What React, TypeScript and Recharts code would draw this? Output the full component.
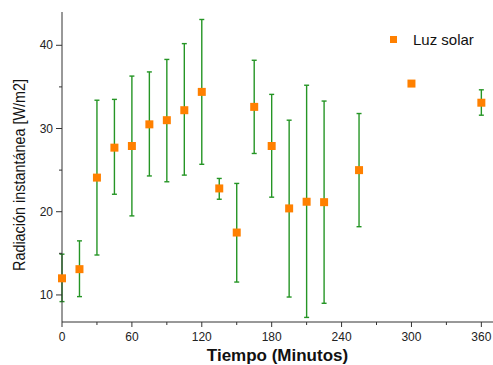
import {
  ScatterChart,
  Scatter,
  XAxis,
  YAxis,
  ErrorBar,
  Legend,
  Label,
} from 'recharts';

const minutes = [0, 15, 30, 45, 60, 75, 90, 105, 120, 135, 150, 165, 180, 195, 210, 225, 255, 300, 360];
const radiation = [12.0, 13.1, 24.1, 27.7, 27.9, 30.5, 31.0, 32.2, 34.4, 22.8, 17.5, 32.6, 27.9, 20.4, 21.2, 21.15, 25.0, 35.4, 33.1];
const errLow = [2.8, 3.3, 9.3, 5.6, 8.4, 6.2, 7.4, 7.8, 8.7, 1.3, 5.95, 5.6, 6.15, 10.65, 13.9, 12.15, 6.8, 0, 1.5];
const errHigh = [2.9, 3.4, 9.3, 5.8, 8.4, 6.3, 7.3, 8.0, 8.7, 1.2, 5.9, 5.6, 6.2, 10.6, 14.0, 12.15, 6.8, 0, 1.55];

const xTicks = [0, 30, 60, 90, 120, 150, 180, 210, 240, 270, 300, 330, 360];
const xLabels = [0, 60, 120, 180, 240, 300, 360];
const yTicks = [10, 15, 20, 25, 30, 35, 40];
const yLabels = [10, 20, 30, 40];

const data = minutes.map((m, i) => ({
  x: m,
  y: radiation[i],
  err: [errLow[i], errHigh[i]],
}));

const font = '"Liberation Sans", Arial, sans-serif';

function XTick(props: any) {
  const { x, y, payload } = props;
  const axisY = y - 7;
  const major = xLabels.includes(payload.value);
  return (
    <g>
      <line x1={x} x2={x} y1={axisY} y2={axisY + (major ? 5 : 3)} stroke="#333" strokeWidth={1} />
      {major && (
        <text x={x} y={axisY + 19} textAnchor="middle" fontSize={12} fill="#222" fontFamily={font}>
          {payload.value}
        </text>
      )}
    </g>
  );
}

function YTick(props: any) {
  const { x, y, payload } = props;
  const axisX = x + 7;
  const major = yLabels.includes(payload.value);
  return (
    <g>
      <line x1={axisX} x2={axisX - (major ? 6 : 3)} y1={y} y2={y} stroke="#333" strokeWidth={1} />
      {major && (
        <text x={axisX - 9} y={y + 4} textAnchor="end" fontSize={12} fill="#222" fontFamily={font}>
          {payload.value}
        </text>
      )}
    </g>
  );
}

function LegendBox() {
  return (
    <div style={{ display: 'flex', alignItems: 'center', fontFamily: font, fontSize: 15, color: '#111' }}>
      <span style={{ display: 'inline-block', width: 7, height: 7, background: '#ff8000', marginRight: 16 }} />
      Luz solar
    </div>
  );
}

export default function App() {
  return (
    <div style={{ position: 'absolute', left: 0, top: 0, background: '#fff' }}>
      <ScatterChart width={493} height={365} margin={{ top: 12, right: 0, bottom: 0, left: 0 }}>
        <XAxis
          type="number"
          dataKey="x"
          domain={[0, 370]}
          ticks={xTicks}
          interval={0}
          tickSize={5}
          tickMargin={2}
          tickLine={false}
          tick={<XTick />}
          axisLine={{ stroke: '#333', strokeWidth: 1 }}
          height={43}
        >
          <Label
            value="Tiempo (Minutos)"
            position="insideBottom"
            offset={4}
            style={{ fontFamily: font, fontSize: 17, fontWeight: 'bold', fill: '#111' }}
          />
        </XAxis>
        <YAxis
          type="number"
          dataKey="y"
          domain={[6.75, 44]}
          ticks={yTicks}
          interval={0}
          tickSize={5}
          tickMargin={2}
          tickLine={false}
          tick={<YTick />}
          axisLine={{ stroke: '#333', strokeWidth: 1 }}
          width={62}
          label={{
            content: () => (
              <text
                x={0}
                y={0}
                transform="translate(25, 175) rotate(-90)"
                textAnchor="middle"
                fontFamily={font}
                fontSize={17}
                fill="#111"
                textLength={192}
                lengthAdjust="spacingAndGlyphs"
              >
                Radiación instantánea [W/m2]
              </text>
            ),
          }}
        />
        <Legend
          verticalAlign="middle"
          align="center"
          content={<LegendBox />}
          wrapperStyle={{ position: 'absolute', left: 390, top: 31, width: 100 }}
        />
        <Scatter
          name="Luz solar"
          data={data}
          fill="#ff8000"
          shape="square"
          legendType="square"
          isAnimationActive={false}
        >
          <ErrorBar dataKey="err" direction="y" width={2.5} stroke="#259525" strokeWidth={1.4} />
        </Scatter>
      </ScatterChart>
    </div>
  );
}
